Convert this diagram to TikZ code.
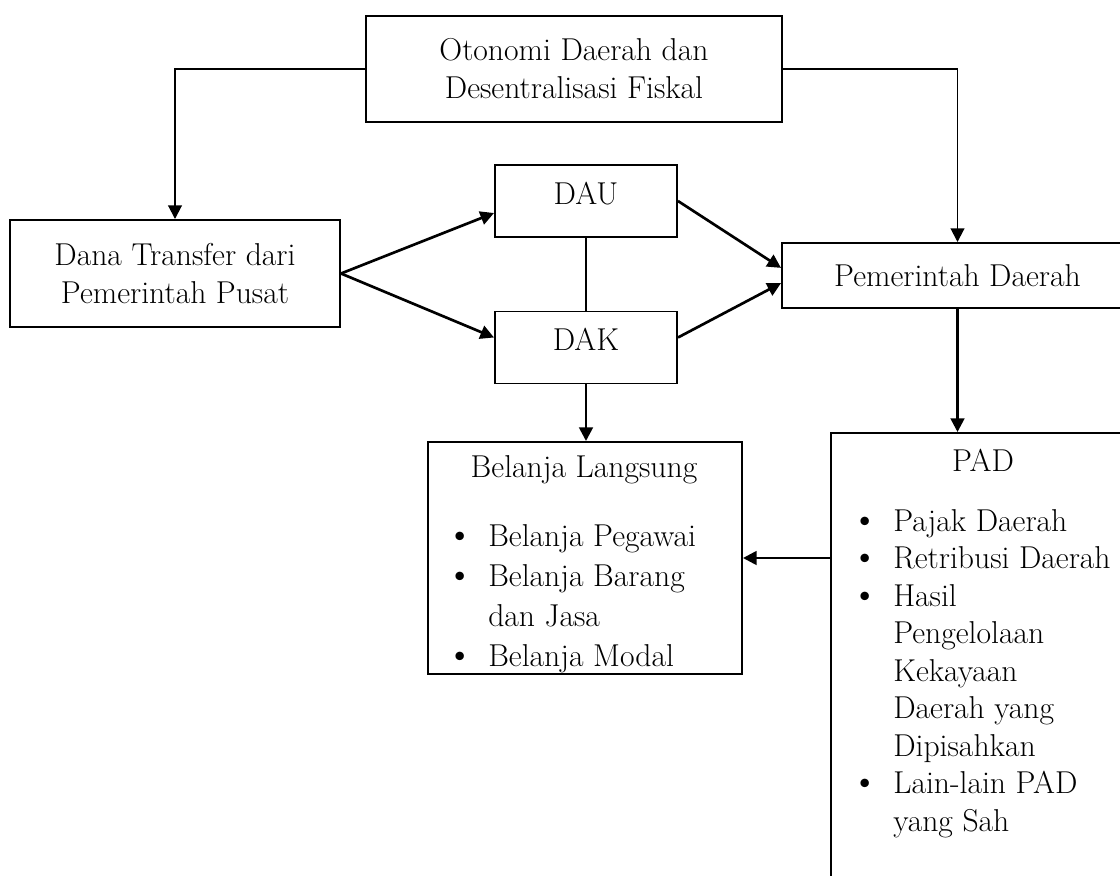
\documentclass[tikz,border=0pt]{standalone}
\usepackage{fontspec}
\usepackage{tikz}
\usetikzlibrary{calc,shapes,positioning}
\usetikzlibrary{arrows.meta}
\tikzset{>={Triangle[width=3.4mm,length=3.4mm]}}

\begin{document}
\begin{tikzpicture}
        \tikzstyle{bnode} = [line width=1.4pt, rectangle, draw, inner sep = 0pt, align=center, font=\fontsize{22.5}{27}\selectfont]
        \tikzstyle{tnode} = [inner sep = 0pt, align=left]
        \tikzstyle{conn} = [line width=1.9pt]
        \newcommand{\itm}{\makebox[1.05cm][l]{\smash{\scalebox{1.2}{\textbullet}}}}
        \newcommand{\itmgap}{\hspace*{1.05cm}}

        \useasboundingbox (0,0) rectangle (28,-21.875);
        \clip (0,0) rectangle (28,-21.875);

        \node[bnode, minimum width=10.4cm, minimum height=2.65cm] (oto) at (14.35,-1.725) {Otonomi Daerah dan\\Desentralisasi Fiskal};
        \node[bnode, minimum width=8.25cm, minimum height=2.675cm] (dana) at (4.375,-6.8375) {Dana Transfer dari\\Pemerintah Pusat};
        \node[bnode, minimum width=4.55cm, minimum height=1.8cm, text depth=0.4cm] (dau) at (14.65,-5.025) {DAU};
        \node[bnode, minimum width=4.55cm, minimum height=1.8cm, text depth=0.4cm] (dak) at (14.65,-8.6875) {DAK};
        \node[bnode, minimum width=8.775cm, minimum height=1.625cm] (pemda) at (23.9375,-6.8875) {Pemerintah Daerah};
        \node[bnode, minimum width=7.85cm, minimum height=5.8cm] (belanja) at (14.625,-13.95) {};
        \node[bnode, minimum width=7.6cm, minimum height=12cm] (pad) at (24.575,-16.825) {};

        % isi kotak belanja dan PAD
        \node[tnode, font=\fontsize{22.5}{27}\selectfont] (belanjahead) at (14.6,-11.75) {Belanja Langsung};
        \node[tnode, anchor=north west, font=\fontsize{22.5}{1cm}\selectfont] (belanjalist) at (11.15,-13.1)
          {\itm Belanja Pegawai\\ \itm Belanja Barang\\ \itmgap dan Jasa\\ \itm Belanja Modal};
        \node[tnode, font=\fontsize{22.5}{27}\selectfont] (padhead) at (24.575,-11.5) {PAD};
        \node[tnode, anchor=north west, font=\fontsize{22.5}{0.9375cm}\selectfont] (padlist) at (21.275,-12.725)
          {\itm Pajak Daerah\\ \itm Retribusi Daerah\\ \itm Hasil\\ \itmgap Pengelolaan\\ \itmgap Kekayaan\\
           \itmgap Daerah yang\\ \itmgap Dipisahkan\\ \itm Lain-lain PAD\\ \itmgap yang Sah};

        \draw[->, line width=1.4pt] (oto.west) -| (dana.north);
        \draw[->, line width=1.4pt] (oto.east) -| (pemda.north);

        \draw[->, conn] (dana.east) -- ([yshift=-3mm]dau.west);
        \draw[->, conn] (dana.east) -- ([yshift=2.5mm]dak.west);
        \draw[->, conn] (dau.east) -- ([yshift=1.9mm]pemda.west);
        \draw[->, conn] ([yshift=2.5mm]dak.east) -- ([yshift=-1.9mm]pemda.west);
        \draw[line width=1pt] (dau.south) -- (dak.north);

        \draw[->, conn] (dak.south) -- (dak.south |- belanja.north);
        \draw[->, conn] (pemda.south) -- (pemda.south |- pad.north);
        \draw[->, conn] (pad.west |- belanja.east) -- (belanja.east);

      \end{tikzpicture}
\end{document}
